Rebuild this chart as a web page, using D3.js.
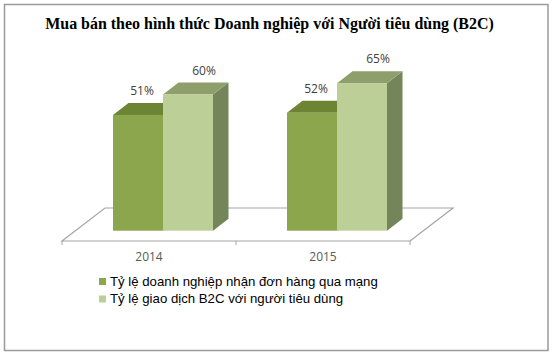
<!DOCTYPE html>
<html>
<head>
<meta charset="utf-8">
<script src="https://cdn.jsdelivr.net/npm/d3@7/dist/d3.min.js"></script>
<style>
  html, body { margin: 0; padding: 0; background: #fff; }
  svg { display: block; }
</style>
</head>
<body>
<div id="chart"></div>
<script>
// data
const years = ['2014', '2015'];
const seriesNames = [
  'Tỷ lệ doanh nghiệp nhận đơn hàng qua mạng',
  'Tỷ lệ giao dịch B2C với người tiêu dùng'
];
const orders = [51, 52];     // series 1
const b2c = [60, 65];        // series 2
const title = 'Mua bán theo hình thức Doanh nghiệp với Người tiêu dùng (B2C)';

// colours per series: front, top, side
const palette = [
  { front: '#8ba64c', top: '#6c8434', side: '#5f7430' },
  { front: '#bccf97', top: '#8e9f6c', side: '#74855a' }
];

const W = 557, H = 357;
const svg = d3.select('#chart').append('svg').attr('width', W).attr('height', H);

// outer frame
svg.append('rect')
  .attr('x', 4.5).attr('y', 4.5).attr('width', 543.5).attr('height', 346)
  .attr('fill', '#fff').attr('stroke', '#9a9a9a').attr('stroke-width', 1.5);

// title, fitted to the width of the original
const t = svg.append('text')
  .attr('x', 269.5).attr('y', 29)
  .attr('text-anchor', 'middle')
  .attr('font-family', '"Liberation Serif", "Times New Roman", serif')
  .attr('font-weight', 'bold')
  .attr('font-size', 16)
  .attr('fill', '#000')
  .text(title);
const tw = t.node().getComputedTextLength();
t.attr('font-size', 16 * 449 / tw);

// scales
const floorY = 241;          // front edge of the floor
const baseY = 230.7;         // bar bottoms (front face)
const x0 = d3.scaleBand().domain(years).range([62, 410]);
const x1 = d3.scaleBand().domain([0, 1]).range([0, 100]);
const y = d3.scaleLinear().domain([0, 100]).range([baseY, baseY - 227]);

// depth offsets
const floorDx = 43, floorDy = -33;
const barDx = 15.5, barDy = -12;
const groupShift = 14;

// floor (parallelogram outline, only visible edges)
const g = svg.append('g');
const fl = 62, fr = 410;
g.append('path')
  .attr('d', `M${fr},${floorY} L${fr + floorDx},${floorY + floorDy} L${fl + floorDx},${floorY + floorDy} L${fl},${floorY} Z`)
  .attr('fill', '#fff').attr('stroke', '#a6a6a6').attr('stroke-width', 1.2);

// category ticks
const ticks = [62, x0('2015'), 410];
g.selectAll('line.tick').data(ticks).enter().append('line')
  .attr('x1', d => d).attr('x2', d => d)
  .attr('y1', floorY).attr('y2', floorY + 4)
  .attr('stroke', '#a6a6a6').attr('stroke-width', 1);

// bars
const bars = [];
years.forEach((yr, i) => {
  [orders[i], b2c[i]].forEach((v, s) => {
    const left = x0(yr) + x0.bandwidth() / 2 + groupShift - 50 + x1(s);
    bars.push({ yr, s, v, left, right: left + x1.bandwidth() });
  });
});

const bg = g.selectAll('g.bar').data(bars).enter().append('g').attr('class', 'bar');

bg.append('path') // side
  .attr('d', d => `M${d.right},${y(d.v)} L${d.right + barDx},${y(d.v) + barDy} L${d.right + barDx},${baseY + barDy} L${d.right},${baseY} Z`)
  .attr('fill', d => palette[d.s].side);

bg.append('path') // top
  .attr('d', d => `M${d.left},${y(d.v)} L${d.left + barDx},${y(d.v) + barDy} L${d.right + barDx},${y(d.v) + barDy} L${d.right},${y(d.v)} Z`)
  .attr('fill', d => palette[d.s].top);

bg.append('rect') // front
  .attr('x', d => d.left).attr('y', d => y(d.v))
  .attr('width', x1.bandwidth()).attr('height', d => baseY - y(d.v))
  .attr('fill', d => palette[d.s].front);

// value labels
bg.append('text')
  .attr('x', d => (d.left + d.right) / 2 + (d.s === 0 ? 4 : 16))
  .attr('y', d => y(d.v) - 20)
  .attr('text-anchor', 'middle')
  .attr('font-family', '"Open Sans", sans-serif')
  .attr('font-size', 12)
  .attr('fill', '#404040')
  .text(d => d.v + '%');

// category labels
g.selectAll('text.year').data(years).enter().append('text')
  .attr('class', 'year')
  .attr('x', d => x0(d) + x0.bandwidth() / 2)
  .attr('y', 261)
  .attr('text-anchor', 'middle')
  .attr('font-family', '"Open Sans", sans-serif')
  .attr('font-size', 12)
  .attr('fill', '#595959')
  .text(d => d);

// legend
const lg = svg.append('g');
const items = lg.selectAll('g').data(seriesNames).enter().append('g')
  .attr('transform', (d, i) => `translate(99, ${278 + i * 17.5})`);
items.append('rect')
  .attr('width', 7).attr('height', 7)
  .attr('fill', (d, i) => palette[i].front);
const lt = items.append('text')
  .attr('x', 11).attr('y', 7.5)
  .attr('font-family', '"Liberation Sans", Arial, sans-serif')
  .attr('font-size', 13.5)
  .attr('fill', '#000')
  .text(d => d);
const lw = lt.node().getComputedTextLength();
lt.attr('font-size', 13.5 * 268 / lw);
</script>
</body>
</html>
